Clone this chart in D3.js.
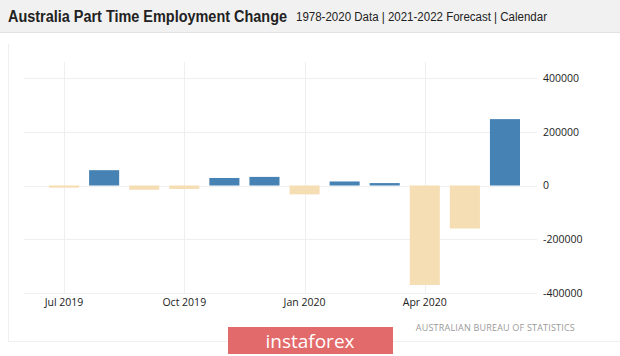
<!DOCTYPE html>
<html><head><meta charset="utf-8">
<script src="https://cdn.jsdelivr.net/npm/d3@7"></script>
<style>
html,body{margin:0;padding:0;background:#fff;}
svg{display:block;font-family:"Open Sans","DejaVu Sans",sans-serif;}
</style></head>
<body><svg id="c" width="620" height="356"></svg>
<script>
const months = ["Jul 2019","Aug 2019","Sep 2019","Oct 2019","Nov 2019","Dec 2019","Jan 2020","Feb 2020","Mar 2020","Apr 2020","May 2020","Jun 2020"];
const values = [-8000, 57000, -16000, -13000, 28000, 32000, -33000, 15000, 9000, -370000, -160000, 247000];
const xTickLabels = ["Jul 2019","Oct 2019","Jan 2020","Apr 2020"];
const yTicks = [400000, 200000, 0, -200000, -400000];

const svg = d3.select("#c");
// header
svg.append("rect").attr("x",0).attr("y",0).attr("width",620).attr("height",32).attr("fill","#f1f1f1");
svg.append("line").attr("x1",0).attr("x2",620).attr("y1",32.5).attr("y2",32.5).attr("stroke","#e2e2e2");
svg.append("text").attr("x",8).attr("y",22).attr("font-family","Liberation Sans, Arial, sans-serif")
  .attr("font-weight","bold").attr("font-size",16).attr("fill","#222")
  .attr("textLength",279).attr("lengthAdjust","spacingAndGlyphs").text("Australia Part Time Employment Change");
svg.append("text").attr("x",296).attr("y",21).attr("font-family","Liberation Sans, Arial, sans-serif")
  .attr("font-size",12).attr("fill","#222")
  .attr("textLength",251).attr("lengthAdjust","spacingAndGlyphs").text("1978-2020 Data | 2021-2022 Forecast | Calendar");

// panel frame
svg.append("path").attr("d","M8.5,44 V341.5 H620").attr("fill","none").attr("stroke","#efefef");

const x = d3.scaleBand().domain(months).range([44,525]).paddingInner(0.25).paddingOuter(0.125);
const y = d3.scaleLinear().domain([-400000,400000]).range([293,78]);

// grid
const g = svg.append("g");
g.selectAll(".hg").data(yTicks).join("line")
  .attr("x1",24).attr("x2",537).attr("y1",d=>Math.round(y(d))+0.5).attr("y2",d=>Math.round(y(d))+0.5)
  .attr("stroke","#efefef");
g.selectAll(".vg").data(xTickLabels).join("line")
  .attr("x1",d=>Math.round(x(d)+x.bandwidth()/2)+0.5).attr("x2",d=>Math.round(x(d)+x.bandwidth()/2)+0.5)
  .attr("y1",62).attr("y2",293).attr("stroke","#efefef");

// bars
svg.selectAll(".bar").data(values).join("rect")
  .attr("x",(d,i)=>x(months[i]))
  .attr("width",x.bandwidth())
  .attr("y",d=>y(Math.max(0,d)))
  .attr("height",d=>Math.abs(y(d)-y(0)))
  .attr("fill",d=>d>=0?"#4682b4":"#f5deb3");

// y axis
const ya = svg.append("g").attr("transform","translate(537,0)")
  .call(d3.axisRight(y).tickValues(yTicks).tickSize(0).tickPadding(6).tickFormat(d=>String(d)));
ya.select(".domain").remove();
ya.selectAll("text").attr("font-size",10.5).attr("fill","#222").attr("font-family","Open Sans, sans-serif");

// x axis
const xa = svg.append("g").attr("transform","translate(0,293)")
  .call(d3.axisBottom(x).tickValues(xTickLabels).tickSize(0).tickPadding(6));
xa.select(".domain").remove();
xa.selectAll("text").attr("font-size",10.5).attr("fill","#222").attr("font-family","Open Sans, sans-serif");

// source
svg.append("text").attr("x",575).attr("y",331).attr("text-anchor","end")
  .attr("font-size",9).attr("fill","#9a9a9a").attr("letter-spacing",0.2).text("AUSTRALIAN BUREAU OF STATISTICS");

// watermark
svg.append("rect").attr("x",228).attr("y",327).attr("width",165).attr("height",27).attr("fill","#e36a6a");
svg.append("text").attr("x",310).attr("y",348).attr("text-anchor","middle")
  .attr("font-size",19).attr("fill","#fff").attr("font-family","Open Sans, sans-serif").text("instaforex");
</script></body></html>
